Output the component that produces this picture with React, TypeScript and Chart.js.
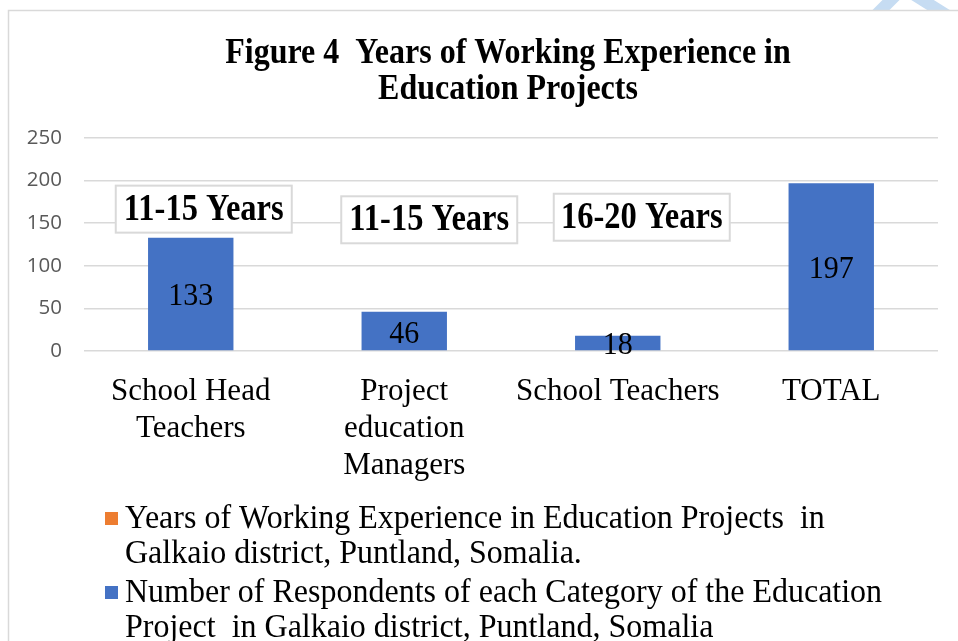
import React, { useEffect, useRef } from "react";
import { Chart, registerables } from "chart.js";

Chart.register(...registerables);

// ---- data ----
const categories: (string | string[])[] = [
  ["School Head", "Teachers"],
  ["Project", "education", "Managers"],
  "School Teachers",
  "TOTAL",
];
const respondents = [133, 46, 18, 197];
const experience: (number | null)[] = [null, null, null, null];
const experienceLabels = ["11-15 Years", "11-15 Years", "16-20 Years", ""];
const titleLines = ["Figure 4  Years of Working Experience in", "Education Projects"];
const seriesLines = [
  ["Years of Working Experience in Education Projects  in", "Galkaio district, Puntland, Somalia."],
  ["Number of Respondents of each Category of the Education", "Project  in Galkaio district, Puntland, Somalia"],
];
const yMin = 0;
const yMax = 250;
const yStep = 50;

const SERIF = '"Liberation Serif", "Times New Roman", Times, serif';
const SANS = '"Open Sans", "Liberation Sans", Arial, sans-serif';
const BLUE = "#4472C4";
const ORANGE = "#ED7D31";
const GRID = "#d9d9d9";

const framePlugin = {
  id: "frame",
  beforeDraw(chart: any) {
    const ctx = chart.ctx;
    ctx.save();
    ctx.fillStyle = "#ffffff";
    ctx.fillRect(0, 0, chart.width, chart.height);
    ctx.beginPath();
    ctx.rect(0, 0, chart.width, 10);
    ctx.clip();
    ctx.strokeStyle = "#c6dcf2";
    ctx.lineWidth = 12;
    ctx.beginPath();
    ctx.moveTo(897, -6);
    ctx.lineTo(875, 16);
    ctx.moveTo(913, -6);
    ctx.lineTo(948, 16);
    ctx.stroke();
    ctx.restore();
    ctx.save();
    ctx.strokeStyle = GRID;
    ctx.lineWidth = 1.5;
    ctx.beginPath();
    ctx.moveTo(8.5, chart.height);
    ctx.lineTo(8.5, 10.5);
    ctx.lineTo(chart.width, 10.5);
    ctx.stroke();
    ctx.restore();
  },
};

const titlePlugin = {
  id: "stretchTitle",
  afterDraw(chart: any, _args: any, opts: any) {
    const ctx = chart.ctx;
    const ca = chart.chartArea;
    const cx = (ca.left + ca.right) / 2 + opts.dx;
    ctx.save();
    ctx.font = `bold 32px ${SERIF}`;
    ctx.fillStyle = "#000";
    ctx.textAlign = "center";
    ctx.textBaseline = "middle";
    titleLines.forEach((line, i) => {
      ctx.save();
      ctx.translate(cx, opts.firstY + i * opts.lineGap);
      ctx.scale(1, 1.12);
      ctx.fillText(line, 0, 0);
      ctx.restore();
    });
    ctx.restore();
  },
};

const valueLabelPlugin = {
  id: "valueLabels",
  afterDatasetsDraw(chart: any) {
    const ctx = chart.ctx;
    const meta = chart.getDatasetMeta(1);
    ctx.save();
    ctx.font = `30px ${SERIF}`;
    ctx.fillStyle = "#000";
    ctx.textAlign = "center";
    ctx.textBaseline = "middle";
    meta.data.forEach((bar: any, i: number) => {
      const v = chart.data.datasets[1].data[i];
      const cy = (bar.y + bar.base) / 2 + 3;
      ctx.save();
      ctx.translate(bar.x, cy);
      ctx.scale(1, 1.08);
      ctx.fillText(String(v), 0, 0);
      ctx.restore();
    });
    ctx.restore();
  },
};

const boxLabelPlugin = {
  id: "boxLabels",
  afterDatasetsDraw(chart: any, _args: any, opts: any) {
    const ctx = chart.ctx;
    const xs = chart.scales.x;
    const ys = chart.scales.y;
    ctx.save();
    ctx.font = `bold 32.5px ${SERIF}`;
    ctx.textAlign = "center";
    ctx.textBaseline = "middle";
    experienceLabels.forEach((lab, i) => {
      if (!lab) return;
      const cx = xs.getPixelForValue(i) + opts.dx[i];
      const cy = ys.getPixelForValue(opts.yv[i]);
      const w = 176;
      const h = 47;
      ctx.fillStyle = "#fff";
      ctx.fillRect(cx - w / 2, cy - h / 2, w, h);
      ctx.strokeStyle = GRID;
      ctx.lineWidth = 2;
      ctx.strokeRect(cx - w / 2, cy - h / 2, w, h);
      ctx.fillStyle = "#000";
      ctx.save();
      ctx.translate(cx, cy + 1);
      ctx.scale(1, 1.15);
      ctx.fillText(lab, 0, 0);
      ctx.restore();
    });
    ctx.restore();
  },
};

const legendPlugin = {
  id: "wrapLegend",
  afterDraw(chart: any, _args: any, opts: any) {
    const ctx = chart.ctx;
    const base = chart.chartArea.bottom;
    ctx.save();
    ctx.font = `32px ${SERIF}`;
    ctx.textAlign = "left";
    ctx.textBaseline = "middle";
    chart.data.datasets.forEach((ds: any, i: number) => {
      const y0 = base + opts.firstOffset + i * opts.itemGap;
      ctx.fillStyle = ds.backgroundColor;
      ctx.fillRect(opts.boxX, y0 - 7, 13, 13);
      ctx.fillStyle = "#000";
      seriesLines[i].forEach((line, j) => {
        ctx.save();
        ctx.translate(opts.textX, y0 + j * opts.lineGap);
        ctx.scale(1, 1.05);
        ctx.fillText(line, 0, 0);
        ctx.restore();
      });
    });
    ctx.restore();
  },
};

export default function App() {
  const ref = useRef<HTMLCanvasElement | null>(null);
  useEffect(() => {
    document.body.style.margin = "0";
    document.body.style.overflow = "hidden";
    const canvas = ref.current!;
    const chart = new Chart(canvas, {
      type: "bar",
      data: {
        labels: categories as any,
        datasets: [
          {
            label: seriesLines[0].join(" "),
            data: experience as any,
            backgroundColor: ORANGE,
            barPercentage: 0.4,
            categoryPercentage: 1,
          },
          {
            label: seriesLines[1].join(" "),
            data: respondents,
            backgroundColor: BLUE,
            barPercentage: 0.4,
            categoryPercentage: 1,
          },
        ],
      },
      options: {
        responsive: false,
        animation: false,
        devicePixelRatio: 1,
        skipNull: true,
        layout: { padding: { top: 138, left: 9, right: 20, bottom: 160 } },
        scales: {
          x: {
            grid: { display: false, drawTicks: false },
            border: { display: false },
            ticks: {
              color: "#000",
              font: { family: SERIF, size: 31, lineHeight: 1.2 },
              padding: 22,
              maxRotation: 0,
              autoSkip: false,
            },
            afterFit: (s: any) => {
              s.height = 130;
            },
          },
          y: {
            min: yMin,
            max: yMax,
            grid: { color: GRID, lineWidth: 1.5, drawTicks: false },
            border: { display: false },
            ticks: {
              stepSize: yStep,
              color: "#595959",
              font: { family: SANS, size: 20.5 },
              padding: 22,
            },
            afterFit: (s: any) => {
              s.width = 75;
            },
          },
        },
        plugins: {
          legend: { display: false },
          tooltip: { enabled: false },
          title: { display: false },
          stretchTitle: { dx: -3, firstY: 53.5, lineGap: 36 },
          boxLabels: { dx: [13, 25, 24], yv: [166.5, 154, 157] },
          wrapLegend: { firstOffset: 168, itemGap: 74, lineGap: 35, boxX: 105, textX: 125 },
        } as any,
      },
      plugins: [framePlugin, valueLabelPlugin, boxLabelPlugin, legendPlugin, titlePlugin],
    });
    return () => chart.destroy();
  }, []);
  return (
    <div style={{ width: 958, height: 641, position: "relative", overflow: "hidden" }}>
      <canvas ref={ref} width={958} height={641} style={{ display: "block" }} />
    </div>
  );
}
